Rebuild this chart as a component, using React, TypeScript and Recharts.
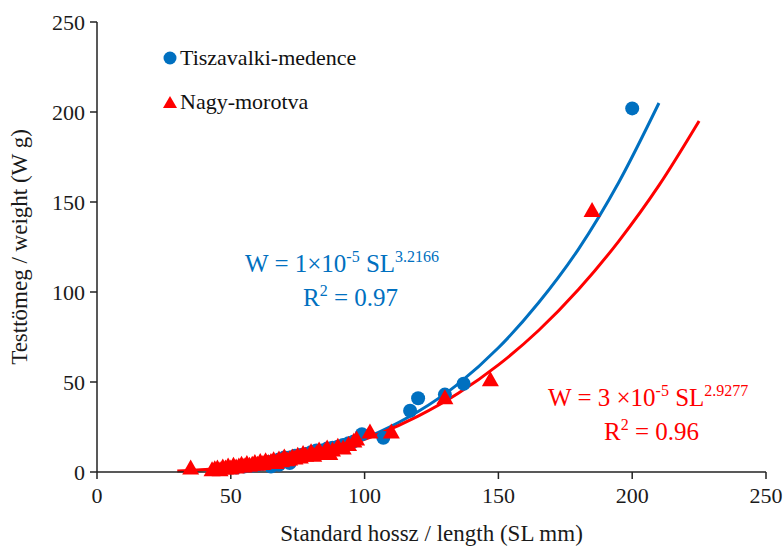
import React from 'react';
import {
  ComposedChart,
  Scatter,
  Line,
  XAxis,
  YAxis
} from 'recharts';

// Tiszavalki-medence observations (SL mm, W g)
const tiszaSL = [52, 55, 58, 60, 62, 64, 65, 66, 68, 68, 70, 72, 72, 74, 76, 78, 80, 82, 84, 86, 88, 90, 92, 94, 96, 99, 107, 117, 120, 130, 137, 200];
const tiszaW = [2.5, 3, 3.5, 4, 4.5, 5.5, 3, 6, 7, 4, 8, 8, 5, 9, 9.5, 10, 11, 12, 12, 13, 13.5, 14, 15, 16, 17, 21, 19, 34, 41, 43, 49, 202];

// Nagy-morotva observations
const nagySL = [35, 43, 44, 45, 46, 47, 48, 49, 50, 51, 52, 53, 54, 55, 56, 57, 58, 59, 60, 61, 62, 63, 64, 65, 66, 67, 68, 69, 70, 71, 72, 73, 74, 75, 76, 77, 78, 80, 81, 82, 83, 85, 86, 87, 88, 90, 92, 94, 96, 97, 102, 110, 130, 147, 185];
const nagyW = [2, 1, 1.5, 2, 1, 2.5, 2, 3, 2, 3.5, 2.5, 3, 4, 3, 4.5, 3.5, 4, 5, 4, 5.5, 4.5, 6, 5, 5.5, 6.5, 5, 7, 6, 8, 6.5, 7, 8, 7.5, 9, 8, 10, 9, 11, 9, 10, 12, 11, 13, 10, 12, 14, 13, 15, 17, 18, 22, 22, 41, 51, 145];

// trend lines
const tiszaTrendSL = [45, 60, 75, 90, 105, 120, 135, 150, 165, 180, 195, 210];
const tiszaTrendW = [1.4, 3.6, 7.4, 13.3, 21.9, 33.6, 49, 69, 94, 124, 161, 205];
const nagyTrendSL = [30, 45, 60, 75, 90, 105, 120, 135, 150, 165, 180, 195, 210, 225];
const nagyTrendW = [0.5, 1.8, 4.1, 7.8, 13.3, 20.9, 31, 43.7, 59.5, 78.6, 101.5, 128.3, 159.2, 195];

const xTicks = [0, 50, 100, 150, 200, 250];
const yTicks = [0, 50, 100, 150, 200, 250];

const BLUE = '#0070C0';
const RED = '#FF0000';
const FONT = '"Liberation Serif", serif';

const zip = (xs: number[], ys: number[]) => xs.map((x, i) => ({ x, y: ys[i] }));

const tiszaData = zip(tiszaSL, tiszaW);
const nagyData = zip(nagySL, nagyW);
const tiszaTrend = zip(tiszaTrendSL, tiszaTrendW);
const nagyTrend = zip(nagyTrendSL, nagyTrendW);

const Dot = (props: any) => {
  const { cx, cy } = props;
  return <circle cx={cx} cy={cy} r={7} fill={BLUE} />;
};

const Tri = (props: any) => {
  const { cx, cy } = props;
  const h = 15;
  const w = 17;
  return (
    <polygon
      points={`${cx},${cy - h * 0.6} ${cx - w / 2},${cy + h * 0.4} ${cx + w / 2},${cy + h * 0.4}`}
      fill={RED}
    />
  );
};

export default function App() {
  return (
    <div style={{ position: 'absolute', left: 0, top: 0, width: 784, height: 546, background: '#fff' }}>
      <ComposedChart
        width={784}
        height={546}
        margin={{ top: 22, right: 18, left: 37, bottom: 14 }}
      >
        <XAxis
          dataKey="x"
          type="number"
          domain={[0, 250]}
          ticks={xTicks}
          tickSize={7}
          stroke="#222"
          strokeWidth={1.5}
          height={60}
          tick={{ fill: '#1a1a1a', fontSize: 22, fontFamily: FONT, dy: 6 }}
          label={{ value: 'Standard hossz / length (SL mm)', position: 'insideBottom', offset: -9, fill: '#1a1a1a', fontSize: 23, fontFamily: FONT }}
        />
        <YAxis
          dataKey="y"
          type="number"
          domain={[0, 250]}
          ticks={yTicks}
          tickSize={7}
          stroke="#222"
          strokeWidth={1.5}
          width={60}
          tick={{ fill: '#1a1a1a', fontSize: 22, fontFamily: FONT, dx: -3 }}
          label={{ value: 'Testtömeg / weight (W g)', angle: -90, position: 'insideLeft', offset: -18, fill: '#1a1a1a', fontSize: 23, fontFamily: FONT, style: { textAnchor: 'middle' } }}
        />
        <Scatter name="Tiszavalki-medence" data={tiszaData} shape={<Dot />} isAnimationActive={false} />
        <Scatter name="Nagy-morotva" data={nagyData} shape={<Tri />} isAnimationActive={false} />
        <Line data={tiszaTrend} dataKey="y" type="monotone" stroke={BLUE} strokeWidth={3} dot={false} isAnimationActive={false} legendType="none" />
        <Line data={nagyTrend} dataKey="y" type="monotone" stroke={RED} strokeWidth={3} dot={false} isAnimationActive={false} legendType="none" />
      </ComposedChart>
      <svg width={784} height={546} style={{ position: 'absolute', left: 0, top: 0, pointerEvents: 'none' }}>
        <g fontFamily={FONT} fontSize={22} fill="#111">
          <circle cx={170} cy={58} r={6.5} fill={BLUE} />
          <text x={180} y={65}>Tiszavalki-medence</text>
          <polygon points="170,96 163,108 177,108" fill={RED} />
          <text x={180} y={109}>Nagy-morotva</text>
        </g>
        <g fontFamily={FONT} fontSize={25}>
          <text x={245} y={272} fill={BLUE}>
            W = 1×10<tspan fontSize={16} dy={-10}>-5</tspan>
            <tspan dy={10}> SL</tspan>
            <tspan fontSize={16} dy={-10}>3.2166</tspan>
          </text>
          <text x={303} y={306} fill={BLUE}>
            R<tspan fontSize={16} dy={-10}>2</tspan>
            <tspan dy={10}> = 0.97</tspan>
          </text>
          <text x={548} y={406} fill={RED}>
            W = 3 ×10<tspan fontSize={16} dy={-10}>-5</tspan>
            <tspan dy={10}> SL</tspan>
            <tspan fontSize={16} dy={-10}>2.9277</tspan>
          </text>
          <text x={604} y={440} fill={RED}>
            R<tspan fontSize={16} dy={-10}>2</tspan>
            <tspan dy={10}> = 0.96</tspan>
          </text>
        </g>
      </svg>
    </div>
  );
}
